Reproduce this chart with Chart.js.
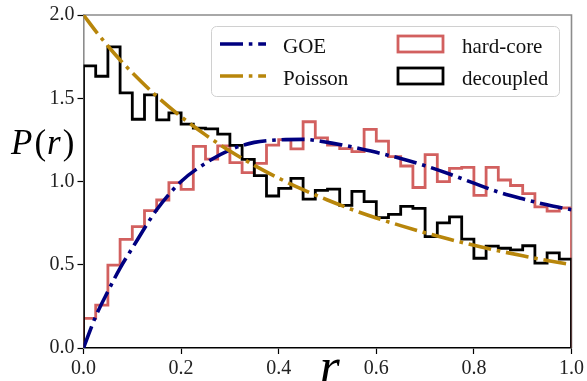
<!DOCTYPE html>
<html>
<head>
<meta charset="utf-8">
<script src="https://cdn.jsdelivr.net/npm/chart.js@4/dist/chart.umd.min.js"></script>
<style>
  html, body { margin: 0; padding: 0; background: #fff; }
  #wrap { width: 587px; height: 381px; }
</style>
</head>
<body>
<div id="wrap"><canvas id="chart" width="587" height="381"></canvas></div>
<script>
"use strict";

// histogram bins (40 bins on [0, 1])
const binEdges = [0, 0.025, 0.05, 0.075, 0.1, 0.125, 0.15, 0.175, 0.2, 0.225,
                  0.25, 0.275, 0.3, 0.325, 0.35, 0.375, 0.4, 0.425, 0.45, 0.475,
                  0.5, 0.525, 0.55, 0.575, 0.6, 0.625, 0.65, 0.675, 0.7, 0.725,
                  0.75, 0.775, 0.8, 0.825, 0.85, 0.875, 0.9, 0.925, 0.95, 0.975, 1];

const hardCore = [0.178, 0.258, 0.498, 0.653, 0.729, 0.825, 0.889, 0.993, 0.953, 1.211,
                  1.134, 1.214, 1.113, 1.053, 1.109, 1.219, 1.251, 1.196, 1.359, 1.262,
                  1.218, 1.197, 1.179, 1.313, 1.243, 1.149, 1.093, 0.964, 1.161, 0.999,
                  1.079, 1.085, 0.917, 1.085, 1.009, 0.976, 0.927, 0.847, 0.822, 0.842];

const decoupled = [1.694, 1.632, 1.808, 1.532, 1.374, 1.520, 1.370, 1.412, 1.344, 1.321,
                   1.316, 1.284, 1.217, 1.133, 1.035, 0.913, 0.959, 1.019, 0.894, 0.947,
                   0.954, 0.857, 0.941, 0.879, 0.783, 0.802, 0.851, 0.838, 0.669, 0.751,
                   0.787, 0.654, 0.539, 0.612, 0.599, 0.589, 0.614, 0.510, 0.571, 0.534];

const curveR = [0, 0.025, 0.05, 0.075, 0.1, 0.15, 0.2, 0.25, 0.3, 0.35, 0.4, 0.45,
                0.5, 0.55, 0.6, 0.65, 0.7, 0.75, 0.8, 0.85, 0.9, 0.95, 1];
const goeValues = [0, 0.19, 0.34, 0.48, 0.60, 0.83, 1.00, 1.11, 1.19, 1.235, 1.25, 1.253,
                   1.235, 1.208, 1.175, 1.138, 1.095, 1.045, 0.99, 0.937, 0.896, 0.86, 0.83];
const poissonValues = [2.0, 1.903, 1.814, 1.730, 1.653, 1.512, 1.389, 1.28, 1.183, 1.097,
                       1.020, 0.951, 0.889, 0.832, 0.781, 0.735, 0.692, 0.653, 0.617,
                       0.584, 0.554, 0.526, 0.5];

const xTicks = [0, 0.2, 0.4, 0.6, 0.8, 1.0];
const yTicks = [0, 0.5, 1.0, 1.5, 2.0];

const SERIF = '"Liberation Serif", "Times New Roman", serif';
const DASHDOT = [23, 5.8, 3.6, 5.8];

function stepPoints(values) {
  const pts = [{x: binEdges[0], y: 0}];
  values.forEach((v, i) => pts.push({x: binEdges[i], y: v}));
  pts.push({x: binEdges[values.length], y: 0});
  return pts;
}

function curvePoints(values) {
  return curveR.map((r, i) => ({x: r, y: values[i]}));
}

// spines on top and right, drawn under the data
const framePlugin = {
  id: 'frame',
  beforeDatasetsDraw(chart) {
    const {ctx, chartArea: a} = chart;
    ctx.save();
    ctx.strokeStyle = '#8c8c8c';
    ctx.lineWidth = 1.6;
    ctx.beginPath();
    ctx.moveTo(a.left, a.top);
    ctx.lineTo(a.right, a.top);
    ctx.lineTo(a.right, a.bottom);
    ctx.stroke();
    ctx.restore();
  }
};

const axisLabelPlugin = {
  id: 'axisLabels',
  afterDraw(chart) {
    const ctx = chart.ctx;
    const a = chart.chartArea;
    ctx.save();
    ctx.fillStyle = '#000';
    ctx.textBaseline = 'alphabetic';
    // y label: P(r)
    const parts = [['P', true], ['(', false], ['r', true], [')', false]];
    let x = 11;
    for (const [t, it] of parts) {
      ctx.font = (it ? 'italic ' : '') + '35px ' + SERIF;
      ctx.fillText(t, x, 154);
      x += ctx.measureText(t).width + (it ? 2 : 1);
    }
    // x label: r
    ctx.font = 'italic 52px ' + SERIF;
    ctx.textAlign = 'center';
    ctx.fillText('r', (a.left + a.right) / 2 + 2, 384);
    ctx.restore();
  }
};

const legendPlugin = {
  id: 'boxLegend',
  afterDatasetsDraw(chart) {
    const ctx = chart.ctx;
    ctx.save();
    ctx.beginPath();
    ctx.roundRect(211.5, 26.5, 348, 70, 5);
    ctx.fillStyle = 'rgba(255,255,255,0.85)';
    ctx.fill();
    ctx.strokeStyle = '#d0d0d0';
    ctx.lineWidth = 1;
    ctx.stroke();

    const colX = [220, 397];
    const textX = [283, 462];
    const rowY = [44, 76];
    const baseY = [53, 84.5];
    chart.data.datasets.forEach((ds, i) => {
      const col = Math.floor(i / 2), row = i % 2;
      ctx.save();
      ctx.strokeStyle = ds.borderColor;
      ctx.lineWidth = ds.borderWidth;
      if (ds.stepped) {
        ctx.strokeRect(colX[col] + 1, rowY[row] - 8, 45, 16);
      } else {
        ctx.setLineDash(ds.borderDash);
        ctx.beginPath();
        ctx.moveTo(colX[col], rowY[row]);
        ctx.lineTo(colX[col] + 46, rowY[row]);
        ctx.stroke();
      }
      ctx.restore();
      ctx.fillStyle = '#111';
      ctx.font = '21px ' + SERIF;
      ctx.textBaseline = 'alphabetic';
      ctx.fillText(ds.label, textX[col], baseY[row]);
    });
    ctx.restore();
  }
};

new Chart(document.getElementById('chart'), {
  type: 'line',
  data: {
    datasets: [
      {
        label: 'GOE',
        data: curvePoints(goeValues),
        borderColor: '#000080',
        borderWidth: 3.6,
        borderDash: DASHDOT,
        borderCapStyle: 'butt',
        cubicInterpolationMode: 'monotone',
        pointRadius: 0,
        fill: false,
        order: 1
      },
      {
        label: 'Poisson',
        data: curvePoints(poissonValues),
        borderColor: '#b8860b',
        borderWidth: 3.6,
        borderDash: DASHDOT,
        borderCapStyle: 'butt',
        cubicInterpolationMode: 'monotone',
        pointRadius: 0,
        fill: false,
        order: 0
      },
      {
        label: 'hard-core',
        data: stepPoints(hardCore),
        borderColor: '#d2605f',
        borderWidth: 2.8,
        stepped: 'before',
        borderJoinStyle: 'miter',
        pointRadius: 0,
        fill: false,
        order: 3
      },
      {
        label: 'decoupled',
        data: stepPoints(decoupled),
        borderColor: '#000000',
        borderWidth: 2.8,
        stepped: 'before',
        borderJoinStyle: 'miter',
        pointRadius: 0,
        fill: false,
        order: 2
      }
    ]
  },
  options: {
    responsive: false,
    animation: false,
    events: [],
    layout: { padding: { left: 0, right: 15, top: 15, bottom: 0 } },
    plugins: { legend: { display: false }, tooltip: { enabled: false } },
    scales: {
      x: {
        type: 'linear',
        min: 0,
        max: 1,
        afterFit(scale) { scale.height = 33; },
        afterBuildTicks(scale) { scale.ticks = xTicks.map(v => ({value: v})); },
        border: { color: '#000', width: 1.6 },
        grid: { drawOnChartArea: false, drawTicks: true, tickLength: 6, tickColor: '#000', tickWidth: 1.2 },
        ticks: {
          padding: 3,
          color: '#222',
          font: { family: SERIF, size: 20 },
          callback: v => v.toFixed(1),
          maxRotation: 0
        }
      },
      y: {
        type: 'linear',
        min: 0,
        max: 2,
        afterFit(scale) { scale.width = 83.5; },
        afterBuildTicks(scale) { scale.ticks = yTicks.map(v => ({value: v})); },
        border: { color: '#8c8c8c', width: 1.6 },
        grid: { drawOnChartArea: false, drawTicks: true, tickLength: 6, tickColor: '#000', tickWidth: 1.2 },
        ticks: {
          padding: 3,
          color: '#222',
          font: { family: SERIF, size: 20 },
          callback: v => v.toFixed(1)
        }
      }
    }
  },
  plugins: [framePlugin, legendPlugin, axisLabelPlugin]
});
</script>
</body>
</html>
